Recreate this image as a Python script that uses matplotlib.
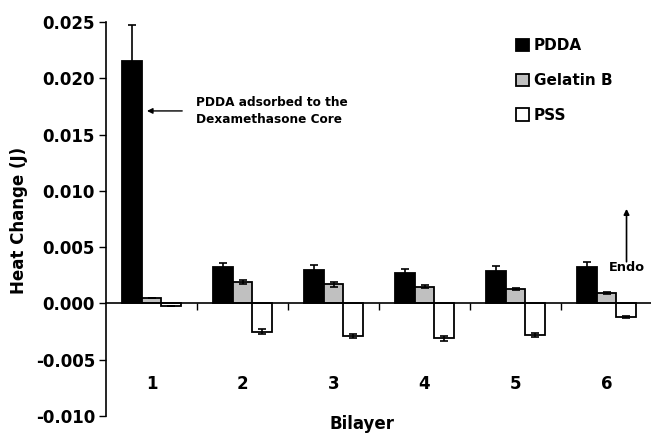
import matplotlib
matplotlib.use("Agg")
import matplotlib.pyplot as plt
import numpy as np

plt.rcParams['font.family'] = ['DejaVu Sans']
plt.rcParams['font.weight'] = 'bold'

bilayers = ["1", "2", "3", "4", "5", "6"]
pdda = [0.0215, 0.0032, 0.0030, 0.0027, 0.0029, 0.0032]
pdda_err = [0.0032, 0.0004, 0.0004, 0.0004, 0.0004, 0.0005]
gelatin = [0.0005, 0.0019, 0.0017, 0.0015, 0.0013, 0.0009]
gelatin_err = [0.0, 0.0002, 0.0002, 0.0001, 0.0001, 0.0001]
pss = [-0.0002, -0.0025, -0.0029, -0.0031, -0.0028, -0.0012]
pss_err = [0.0, 0.0002, 0.0002, 0.0002, 0.0002, 0.0001]
series_names = ["PDDA", "Gelatin B", "PSS"]
yticks = [-0.010, -0.005, 0.000, 0.005, 0.010, 0.015, 0.020, 0.025]

fig = plt.figure(figsize=(6.51, 4.33), dpi=100)
ax = fig.add_axes([106/651, 1-416/433, 546/651, 394/433])

x = np.arange(1, len(bilayers)+1)
w = 0.215
colors = ["black", "#c0c0c0", "white"]
data = [(pdda, pdda_err), (gelatin, gelatin_err), (pss, pss_err)]
for i, ((vals, errs), c, name) in enumerate(zip(data, colors, series_names)):
    ax.bar(x + (i-1)*w, vals, width=w, color=c, edgecolor='black', linewidth=1.3,
           label=name, zorder=2)
    ax.errorbar(x + (i-1)*w, vals, yerr=errs, fmt='none', ecolor='black',
                elinewidth=1.2, capsize=3, capthick=1.2, zorder=3)

ax.set_xlim(0.5, len(bilayers)+0.5)
ax.set_ylim(-0.010, 0.025)
ax.set_yticks(yticks)
ax.set_yticklabels([f"{t:.3f}" for t in yticks], fontsize=12, fontweight='bold')
for s in ['top', 'right']:
    ax.spines[s].set_visible(False)
ax.spines['bottom'].set_position(('data', 0))
ax.spines['left'].set_linewidth(1.2)
ax.spines['bottom'].set_linewidth(1.2)
ax.set_xticks(x + 0.5)
ax.set_xticklabels([])
ax.tick_params(axis='x', direction='out', length=5, width=1)
ax.tick_params(axis='y', direction='out', length=5, width=1, pad=3)

for xi, lab in zip(x, bilayers):
    ax.text(xi, -0.0072, lab, ha='center', va='center', fontsize=12, fontweight='bold')

fig.text(362/651, 1-424/433, "Bilayer", ha='center', va='center', fontsize=12, fontweight='bold')
fig.text(19/651, 1-220/433, "Heat Change (J)", ha='center', va='center', rotation=90,
         fontsize=12, fontweight='bold')

ax.annotate("PDDA adsorbed to the\nDexamethasone Core", xy=(0.95, 0.0171), xytext=(1.49, 0.0171),
            ha='left', va='center', fontsize=8.7, fontweight='bold', linespacing=1.4,
            arrowprops=dict(arrowstyle='-|>', color='black', lw=1, mutation_scale=8, shrinkA=8, shrinkB=0))
ax.annotate("", xy=(6.22, 0.0084), xytext=(6.22, 0.0037),
            arrowprops=dict(arrowstyle='-|>', color='black', lw=1.2, mutation_scale=8, shrinkA=0, shrinkB=0))
ax.text(6.22, 0.0032, "Endo", ha='center', va='center', fontsize=9.3, fontweight='bold')

leg = ax.legend(loc='upper left', bbox_to_anchor=(510/651, 1-32/433), bbox_transform=fig.transFigure,
                frameon=False, fontsize=11, handlelength=0.85, handleheight=0.85,
                handletextpad=0.3, labelspacing=1.3, borderaxespad=0)
for t in leg.get_texts():
    t.set_fontweight('bold')

fig.savefig("out.png", dpi=100)
